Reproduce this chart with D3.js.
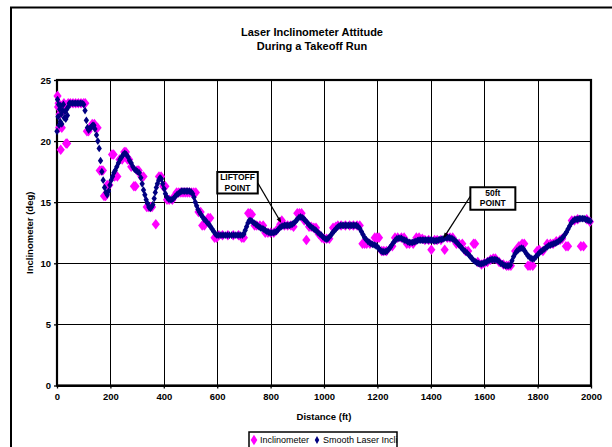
<!DOCTYPE html>
<html>
<head>
<meta charset="utf-8">
<script src="https://cdn.jsdelivr.net/npm/d3@7"></script>
<style>
    body { margin: 0; background: #fff; }
    svg { display: block; font-family: "Liberation Sans", Arial, sans-serif; }
    .tick text { font-size: 9.5px; font-weight: bold; fill: #000; }
    .grid line { stroke: #000; stroke-width: 1; shape-rendering: crispEdges; }
    .note text { font-size: 8.5px; font-weight: bold; }
</style>
</head>
<body>
<div id="chart"></div>
<script>
// Laser inclinometer attitude during a takeoff run

const CHART_TITLE = ['Laser Inclinometer Attitude', 'During a Takeoff Run'];
const X_TITLE = 'Distance (ft)';
const Y_TITLE = 'Inclinometer (deg)';
const SERIES_NAMES = ['Inclinometer', 'Smooth Laser Incli'];

const xTicks = [0, 200, 400, 600, 800, 1000, 1200, 1400, 1600, 1800, 2000];
const yTicks = [0, 5, 10, 15, 20, 25];

// raw inclinometer samples (distance ft / deg)
const rawDist = [
    2, 4, 6, 8, 10, 14, 18, 22, 26, 30,
    34, 38, 42, 50, 60, 70, 80, 90, 100, 106,
    112, 118, 124, 132, 140, 146, 152, 160, 166, 172,
    176, 182, 188, 196, 206, 212, 216, 226, 234, 244,
    252, 258, 264, 270, 278, 288, 294, 300, 306, 316,
    324, 336, 342, 350, 356, 370, 382, 390, 398, 406,
    412, 420, 432, 440, 448, 456, 464, 472, 480, 488,
    496, 504, 512, 520, 530, 538, 544, 552, 566, 574,
    590, 598, 606, 620, 640, 660, 680, 692, 700, 716,
    724, 730, 740, 748, 760, 772, 780, 790, 800, 812,
    822, 836, 842, 852, 864, 876, 886, 900, 908, 916,
    926, 934, 944, 952, 962, 970, 980, 992, 1000, 1010,
    1020, 1034, 1044, 1052, 1064, 1080, 1096, 1110, 1124, 1134,
    1144, 1152, 1160, 1172, 1190, 1198, 1206, 1216, 1224, 1234,
    1256, 1266, 1276, 1290, 1300, 1310, 1320, 1334, 1346, 1356,
    1368, 1378, 1392, 1402, 1414, 1424, 1438, 1452, 1462, 1472,
    1482, 1496, 1506, 1518, 1530, 1540, 1560, 1566, 1576, 1590,
    1600, 1612, 1624, 1634, 1642, 1656, 1672, 1684, 1692, 1700,
    1716, 1730, 1742, 1750, 1764, 1772, 1782, 1798, 1806, 1820,
    1836, 1848, 1858, 1870, 1884, 1892, 1906, 1914, 1928, 1938,
    1950, 1962, 1972, 1984, 1996
];
const rawIncl = [
    23.7, 22.8, 23.1, 21.1, 22.2, 19.3, 21.1, 22.5, 23.1, 22.8,
    19.8, 19.8, 23.1, 23.1, 23.1, 23.1, 23.1, 23.1, 23.1, 23.1,
    20.8, 20.8, 21.1, 21.4, 21.4, 21.1, 21.1, 17.6, 17.6, 17.6,
    15.5, 15.5, 16.4, 16.4, 18.9, 18.9, 17.1, 17.1, 18.5, 18.5,
    19.1, 19.1, 18.5, 18.5, 17.9, 16.3, 16.3, 17.6, 17.6, 17.1,
    17.1, 14.6, 14.6, 14.6, 14.6, 13.2, 17.1, 17.1, 16.3, 16.3,
    15.2, 15.2, 15.2, 15.5, 15.8, 15.8, 15.8, 15.8, 15.8, 15.8,
    15.8, 15.8, 15.8, 15.8, 14.2, 14.2, 13.1, 13.1, 13.7, 13.7,
    12.1, 12.1, 12.3, 12.3, 12.3, 12.3, 12.3, 12.1, 12.1, 14.1,
    14.1, 14.0, 13.1, 13.1, 13.1, 13.1, 12.5, 12.5, 12.5, 12.5,
    12.7, 13.2, 13.5, 13.1, 13.1, 13.1, 13.0, 14.1, 14.1, 14.1,
    13.5, 11.9, 13.0, 13.0, 12.9, 12.9, 12.4, 12.1, 12.0, 12.0,
    12.0, 12.9, 13.0, 13.1, 13.1, 13.1, 13.1, 13.1, 13.1, 13.1,
    11.6, 11.6, 11.6, 11.6, 12.1, 12.1, 12.1, 11.0, 11.0, 11.0,
    11.4, 12.1, 12.1, 12.1, 12.1, 11.6, 11.6, 11.6, 12.1, 12.1,
    12.0, 11.9, 11.9, 11.1, 11.9, 11.9, 11.9, 11.1, 12.1, 12.1,
    12.1, 11.6, 11.6, 11.6, 11.0, 11.0, 11.6, 11.6, 10.1, 9.9,
    10.0, 10.1, 10.3, 10.4, 10.4, 10.1, 9.9, 9.8, 9.8, 9.8,
    11.0, 11.4, 11.6, 11.6, 9.8, 9.8, 9.8, 11.0, 11.1, 11.0,
    11.6, 11.6, 11.6, 11.8, 11.9, 12.0, 11.4, 11.4, 13.5, 13.5,
    13.6, 11.4, 11.4, 13.6, 13.4
];

// smoothed laser inclinometer (distance ft / deg)
const smoothDist = [
    0, 2, 4, 6, 8, 10, 12, 14, 16, 18,
    21, 24, 27, 30, 33, 36, 39, 42, 46, 52,
    58, 64, 70, 76, 82, 88, 94, 100, 105, 110,
    114, 118, 122, 126, 130, 134, 138, 142, 148, 153,
    158, 163, 168, 173, 178, 183, 188, 193, 198, 203,
    208, 213, 218, 224, 230, 236, 242, 248, 254, 260,
    266, 272, 278, 284, 290, 296, 302, 308, 314, 319,
    324, 329, 334, 339, 344, 349, 354, 359, 364, 368,
    372, 376, 381, 386, 391, 396, 401, 406, 412, 418,
    424, 430, 436, 442, 448, 454, 460, 466, 472, 478,
    484, 490, 496, 502, 508, 513, 518, 523, 528, 533,
    539, 545, 551, 557, 563, 569, 575, 581, 587, 593,
    599, 606, 614, 622, 630, 638, 646, 654, 662, 670,
    678, 686, 694, 700, 705, 710, 715, 720, 726, 732,
    738, 744, 750, 756, 762, 768, 774, 780, 786, 792,
    798, 804, 810, 816, 822, 828, 834, 840, 846, 852,
    858, 864, 870, 876, 882, 888, 894, 900, 906, 912,
    918, 924, 930, 936, 942, 948, 954, 960, 966, 972,
    978, 984, 990, 996, 1002, 1008, 1014, 1020, 1026, 1032,
    1038, 1044, 1050, 1056, 1062, 1068, 1074, 1080, 1086, 1092,
    1098, 1104, 1110, 1116, 1122, 1128, 1134, 1140, 1146, 1152,
    1158, 1164, 1170, 1176, 1182, 1188, 1194, 1200, 1206, 1212,
    1218, 1224, 1230, 1236, 1242, 1248, 1254, 1260, 1266, 1272,
    1278, 1284, 1290, 1296, 1302, 1308, 1314, 1320, 1326, 1332,
    1338, 1344, 1350, 1356, 1362, 1368, 1374, 1380, 1386, 1392,
    1398, 1404, 1410, 1416, 1422, 1428, 1434, 1440, 1446, 1452,
    1458, 1464, 1470, 1476, 1482, 1488, 1494, 1500, 1506, 1512,
    1518, 1524, 1530, 1536, 1542, 1548, 1554, 1560, 1566, 1572,
    1578, 1584, 1590, 1596, 1602, 1608, 1614, 1620, 1626, 1632,
    1638, 1644, 1650, 1656, 1662, 1668, 1674, 1680, 1686, 1692,
    1698, 1704, 1710, 1716, 1722, 1728, 1734, 1740, 1746, 1752,
    1758, 1764, 1770, 1776, 1782, 1788, 1794, 1800, 1806, 1812,
    1818, 1824, 1830, 1836, 1842, 1848, 1854, 1860, 1866, 1872,
    1878, 1884, 1890, 1896, 1902, 1908, 1914, 1920, 1926, 1932,
    1938, 1944, 1950, 1956, 1962, 1968, 1974, 1980, 1986, 1992,
    1998
];
const smoothIncl = [
    20.8, 23.4, 22.0, 23.0, 21.3, 22.6, 21.6, 22.9, 22.2, 21.4,
    22.5, 23.0, 21.9, 22.4, 21.8, 22.6, 22.1, 22.8, 23.1, 23.1,
    23.1, 23.1, 23.1, 23.1, 23.1, 23.1, 23.1, 23.0, 22.5, 21.7,
    21.1, 20.9, 21.0, 21.1, 21.2, 21.3, 21.3, 21.0, 20.5, 20.0,
    19.4, 18.4, 17.5, 16.8, 16.2, 15.8, 15.6, 15.9, 16.4, 16.8,
    17.1, 17.4, 17.6, 17.9, 18.2, 18.5, 18.7, 18.9, 19.0, 18.9,
    18.7, 18.4, 18.2, 17.9, 17.7, 17.6, 17.5, 17.4, 17.0, 16.5,
    16.0, 15.6, 15.2, 14.9, 14.6, 14.5, 14.6, 14.8, 15.3, 15.8,
    16.2, 16.5, 16.8, 17.0, 16.9, 16.5, 16.1, 15.7, 15.4, 15.25,
    15.2, 15.2, 15.3, 15.45, 15.6, 15.7, 15.8, 15.9, 15.9, 15.9,
    15.9, 15.9, 15.9, 15.85, 15.7, 15.4, 15.0, 14.7, 14.4, 14.2,
    14.0, 13.8, 13.6, 13.5, 13.3, 13.2, 13.0, 12.8, 12.6, 12.4,
    12.3, 12.3, 12.3, 12.3, 12.3, 12.3, 12.3, 12.3, 12.3, 12.3,
    12.3, 12.3, 12.3, 12.4, 12.7, 13.0, 13.3, 13.5, 13.5, 13.4,
    13.3, 13.2, 13.1, 13.0, 12.9, 12.85, 12.8, 12.7, 12.6, 12.55,
    12.5, 12.5, 12.5, 12.55, 12.6, 12.75, 12.9, 13.0, 13.05, 13.1,
    13.1, 13.1, 13.1, 13.15, 13.2, 13.3, 13.45, 13.6, 13.75, 13.8,
    13.75, 13.65, 13.5, 13.35, 13.2, 13.05, 12.95, 12.85, 12.75, 12.65,
    12.5, 12.4, 12.3, 12.15, 12.05, 11.97, 12.0, 12.15, 12.3, 12.5,
    12.65, 12.8, 12.95, 13.05, 13.1, 13.1, 13.1, 13.1, 13.1, 13.1,
    13.1, 13.1, 13.1, 13.1, 13.1, 13.0, 12.85, 12.6, 12.35, 12.1,
    11.95, 11.8, 11.7, 11.6, 11.55, 11.5, 11.45, 11.35, 11.2, 11.05,
    10.95, 10.95, 10.95, 11.0, 11.15, 11.3, 11.5, 11.7, 11.85, 12.0,
    12.05, 12.05, 12.05, 11.95, 11.9, 11.85, 11.75, 11.7, 11.7, 11.7,
    11.75, 11.8, 11.85, 11.9, 11.9, 11.9, 11.9, 11.9, 11.9, 11.9,
    11.9, 11.9, 11.85, 11.85, 11.85, 11.9, 11.95, 11.95, 12.0, 12.05,
    12.1, 12.1, 12.1, 12.05, 12.0, 11.9, 11.8, 11.65, 11.5, 11.35,
    11.2, 11.05, 10.95, 10.85, 10.7, 10.55, 10.4, 10.25, 10.15, 10.05,
    10.0, 9.95, 9.95, 10.0, 10.05, 10.1, 10.2, 10.25, 10.3, 10.3,
    10.3, 10.3, 10.25, 10.15, 10.0, 9.95, 9.85, 9.8, 9.8, 9.8,
    9.85, 10.2, 10.55, 10.8, 11.0, 11.1, 11.2, 11.25, 11.2, 11.0,
    10.8, 10.6, 10.5, 10.4, 10.35, 10.4, 10.55, 10.7, 10.85, 10.95,
    11.05, 11.15, 11.25, 11.35, 11.45, 11.5, 11.55, 11.6, 11.65, 11.7,
    11.8, 11.9, 12.0, 12.15, 12.35, 12.55, 12.8, 13.05, 13.3, 13.45,
    13.55, 13.6, 13.6, 13.65, 13.65, 13.65, 13.65, 13.6, 13.55, 13.5,
    13.45
];

// callouts, anchored at data positions
const noteLabels = [['LIFTOFF', 'POINT'], ['50ft', 'POINT']];
const noteTargets = [[840, 13.3], [1447, 12.05]];

const WIDTH = 612;
const HEIGHT = 447;
const MARGIN = { top: 80, right: 21, bottom: 61.5, left: 57 };
const RAW_COLOR = '#ff00ff';
const SMOOTH_COLOR = '#000080';

function drawChart() {
    const svg = d3.select('#chart').append('svg')
        .attr('width', WIDTH)
        .attr('height', HEIGHT);

    // outer chart frame (runs off the right and bottom of the picture)
    svg.append('rect')
        .attr('x', 11).attr('y', 7.5)
        .attr('width', WIDTH).attr('height', HEIGHT)
        .attr('fill', '#fff')
        .attr('stroke', '#000')
        .attr('stroke-width', 2);

    const x = d3.scaleLinear().domain([0, 2000]).range([MARGIN.left, WIDTH - MARGIN.right]);
    const y = d3.scaleLinear().domain([0, 25]).range([HEIGHT - MARGIN.bottom, MARGIN.top]);
    const plotW = x.range()[1] - x.range()[0];
    const plotH = y.range()[0] - y.range()[1];
    const fmt = d3.format('d');

    // gridlines
    svg.append('g')
        .attr('class', 'grid')
        .attr('transform', 'translate(0,' + y.range()[0] + ')')
        .call(d3.axisBottom(x).tickValues(xTicks).tickSize(-plotH).tickFormat(''))
        .call(g => g.select('.domain').remove());
    svg.append('g')
        .attr('class', 'grid')
        .attr('transform', 'translate(' + x.range()[0] + ',0)')
        .call(d3.axisLeft(y).tickValues(yTicks).tickSize(-plotW).tickFormat(''))
        .call(g => g.select('.domain').remove());

    // axes
    const xAxis = svg.append('g')
        .attr('transform', 'translate(0,' + y.range()[0] + ')')
        .call(d3.axisBottom(x).tickValues(xTicks).tickFormat(fmt).tickSize(3).tickPadding(5).tickSizeOuter(0));
    const yAxis = svg.append('g')
        .attr('transform', 'translate(' + x.range()[0] + ',0)')
        .call(d3.axisLeft(y).tickValues(yTicks).tickFormat(fmt).tickSize(3).tickPadding(3).tickSizeOuter(0));
    [xAxis, yAxis].forEach(a => {
        a.selectAll('.tick line').attr('stroke', '#000').attr('stroke-width', 1.3);
        a.select('.domain').remove();
    });

    // plot frame
    svg.append('rect')
        .attr('x', x.range()[0]).attr('y', y.range()[1])
        .attr('width', plotW).attr('height', plotH)
        .attr('fill', 'none')
        .attr('stroke', '#000')
        .attr('stroke-width', 2.2);

    // series
    const rawSymbol = d3.symbol().type(d3.symbolDiamond).size(32);
    const smoothSymbol = d3.symbol().type(d3.symbolDiamond).size(17);

    svg.append('g').selectAll('path')
        .data(rawDist)
        .join('path')
            .attr('d', rawSymbol)
            .attr('transform', (d, i) => 'translate(' + x(d) + ',' + y(rawIncl[i]) + ') scale(1.35,1)')
            .attr('fill', RAW_COLOR);

    svg.append('g').selectAll('path')
        .data(smoothDist)
        .join('path')
            .attr('d', smoothSymbol)
            .attr('transform', (d, i) => 'translate(' + x(d) + ',' + y(smoothIncl[i]) + ') scale(1.2,1)')
            .attr('fill', SMOOTH_COLOR);

    // callouts
    const boxOffsets = [[-64, -51, 40.5, 21.5], [27, -51, 45, 22.5]];
    const notes = svg.append('g').attr('class', 'note');
    noteTargets.forEach((t, i) => {
        const tx = x(t[0]);
        const ty = y(t[1]);
        const o = boxOffsets[i];
        const bx = tx + o[0];
        const by = ty + o[1];
        const fromX = i === 0 ? bx + o[2] : bx;
        const fromY = i === 0 ? by + 11 : by + 9;
        const ang = Math.atan2(ty - fromY, tx - fromX);
        const head = 6;
        notes.append('line')
            .attr('x1', fromX).attr('y1', fromY)
            .attr('x2', tx - Math.cos(ang) * 2).attr('y2', ty - Math.sin(ang) * 2)
            .attr('stroke', '#000').attr('stroke-width', 1.3);
        notes.append('path')
            .attr('d', 'M' + tx + ',' + ty +
                'L' + (tx - head * Math.cos(ang - 0.35)) + ',' + (ty - head * Math.sin(ang - 0.35)) +
                'L' + (tx - head * Math.cos(ang + 0.35)) + ',' + (ty - head * Math.sin(ang + 0.35)) + 'Z')
            .attr('fill', '#000');
        notes.append('rect')
            .attr('x', bx).attr('y', by)
            .attr('width', o[2]).attr('height', o[3])
            .attr('fill', '#fff')
            .attr('stroke', '#000')
            .attr('stroke-width', 2);
        notes.append('text')
            .attr('x', bx + o[2] / 2).attr('y', by + 8.5)
            .attr('text-anchor', 'middle')
            .text(noteLabels[i][0]);
        notes.append('text')
            .attr('x', bx + o[2] / 2).attr('y', by + 19)
            .attr('text-anchor', 'middle')
            .text(noteLabels[i][1]);
    });

    // titles
    svg.append('text')
        .attr('x', 312).attr('y', 35.5)
        .attr('text-anchor', 'middle')
        .attr('font-size', 11).attr('font-weight', 'bold')
        .selectAll('tspan')
        .data(CHART_TITLE)
        .join('tspan')
            .attr('x', 312)
            .attr('dy', (d, i) => i === 0 ? 0 : 14)
            .text(d => d);

    svg.append('text')
        .attr('x', (x.range()[0] + x.range()[1]) / 2).attr('y', 420)
        .attr('text-anchor', 'middle')
        .attr('font-size', 9.5).attr('font-weight', 'bold')
        .text(X_TITLE);

    svg.append('text')
        .attr('transform', 'translate(33,' + (y.range()[0] + y.range()[1]) / 2 + ') rotate(-90)')
        .attr('text-anchor', 'middle')
        .attr('font-size', 9.5).attr('font-weight', 'bold')
        .text(Y_TITLE);

    // legend
    const legend = svg.append('g').attr('transform', 'translate(249,432)');
    legend.append('rect')
        .attr('width', 148).attr('height', 20)
        .attr('fill', '#fff')
        .attr('stroke', '#000')
        .attr('stroke-width', 1.5);
    const legendX = [5, 68];
    SERIES_NAMES.forEach((name, i) => {
        legend.append('path')
            .attr('d', i === 0 ? rawSymbol : d3.symbol().type(d3.symbolDiamond).size(18))
            .attr('transform', 'translate(' + legendX[i] + ',8)' + (i === 0 ? ' scale(1.1,1)' : ''))
            .attr('fill', i === 0 ? RAW_COLOR : SMOOTH_COLOR);
        legend.append('text')
            .attr('x', legendX[i] + 6).attr('y', 11)
            .attr('font-size', 9)
            .text(name);
    });
}

drawChart();
</script>
</body>
</html>
